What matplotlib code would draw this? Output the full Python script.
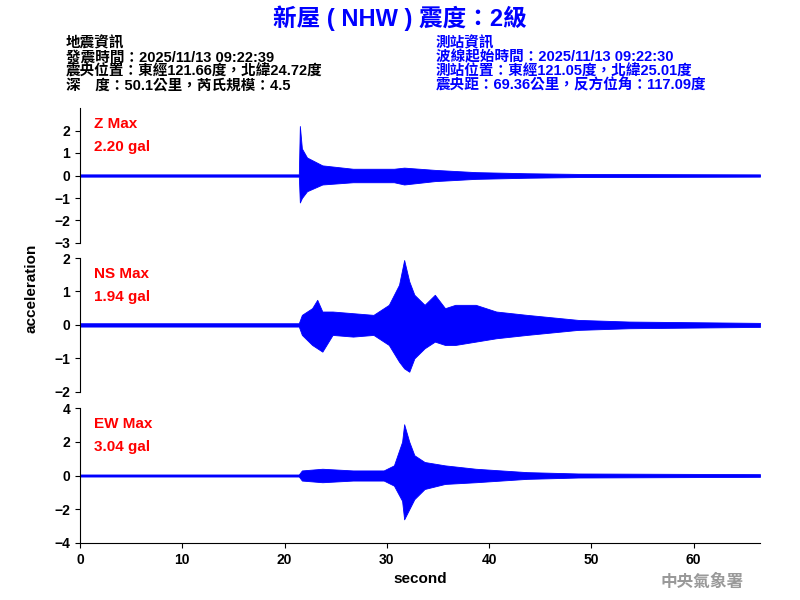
import matplotlib
matplotlib.use("Agg")
import matplotlib.pyplot as plt

plt.rcParams['font.family'] = ['Liberation Sans', 'Noto Sans CJK TC', 'DejaVu Sans']
plt.rcParams['font.weight'] = 'bold'

# Envelope knots (seconds) with upper/lower amplitude (gal)
z_t  = [0, 21.4, 21.5, 21.7, 22.2, 23.7, 26.7, 30.7, 31.7, 34.7, 38.7, 43.7, 48.7, 66.5]
z_up = [0.05, 0.05, 2.2, 1.2, 0.8, 0.45, 0.3, 0.3, 0.35, 0.25, 0.15, 0.1, 0.07, 0.05]
z_lo = [-0.05, -0.05, -1.2, -1.0, -0.7, -0.4, -0.3, -0.3, -0.4, -0.25, -0.15, -0.1, -0.07, -0.05]

ns_t  = [0, 21.4, 21.7, 22.7, 23.2, 23.7, 24.7, 26.7, 28.7, 30.2, 31.2, 31.7, 32.2, 32.7, 33.7, 34.7, 35.7, 36.7, 38.7, 40.7, 43.7, 48.7, 53.7, 66.5]
ns_up = [0.05, 0.05, 0.3, 0.5, 0.75, 0.4, 0.4, 0.35, 0.3, 0.6, 1.2, 1.94, 1.3, 0.9, 0.6, 0.9, 0.5, 0.6, 0.6, 0.4, 0.3, 0.15, 0.1, 0.06]
ns_lo = [-0.05, -0.05, -0.3, -0.6, -0.7, -0.8, -0.3, -0.35, -0.3, -0.6, -1.1, -1.3, -1.4, -1.0, -0.7, -0.5, -0.6, -0.6, -0.5, -0.4, -0.3, -0.15, -0.1, -0.06]

ew_t  = [0, 21.4, 21.7, 23.7, 26.7, 29.7, 30.7, 31.5, 31.7, 32.2, 32.7, 33.7, 35.7, 38.7, 43.7, 48.7, 66.5]
ew_up = [0.06, 0.06, 0.3, 0.4, 0.3, 0.3, 0.6, 2.0, 3.04, 2.0, 1.2, 0.8, 0.6, 0.4, 0.2, 0.12, 0.08]
ew_lo = [-0.06, -0.06, -0.3, -0.4, -0.3, -0.3, -0.6, -1.5, -2.6, -2.0, -1.4, -0.8, -0.5, -0.4, -0.2, -0.12, -0.08]

panels = [
    ("Z Max", "2.20 gal", z_t, z_up, z_lo, (-3, 3), [-3, -2, -1, 0, 1, 2], (0.1, 0.595, 0.85, 0.225)),
    ("NS Max", "1.94 gal", ns_t, ns_up, ns_lo, (-2, 2), [-2, -1, 0, 1, 2], (0.1, 0.347, 0.85, 0.223)),
    ("EW Max", "3.04 gal", ew_t, ew_up, ew_lo, (-4, 4), [-4, -2, 0, 2, 4], (0.1, 0.095, 0.85, 0.225)),
]

fig = plt.figure(figsize=(8, 6), dpi=100)
for i, (lab, val, t, up, lo, yl, yt, rect) in enumerate(panels):
    ax = fig.add_axes(rect)
    ax.fill_between(t, lo, up, color='#0000ff', lw=0.6, edgecolor='#0000ff')
    ax.plot([0, 66.5], [0, 0], color='#0000ff', lw=0.8)
    ax.set_xlim(0, 66.5)
    ax.set_ylim(*yl)
    ax.set_yticks(yt)
    for s in ['top', 'right']:
        ax.spines[s].set_visible(False)
    ax.tick_params(labelsize=10)
    if i < 2:
        ax.spines['bottom'].set_visible(False)
        ax.set_xticks([])
    else:
        ax.set_xticks([0, 10, 20, 30, 40, 50, 60])
        ax.set_xlabel("second", fontsize=11, fontweight='bold')
    ax.text(0.02, 0.93, lab, transform=ax.transAxes, color='red', fontsize=11, va='top')
    ax.text(0.02, 0.76, val, transform=ax.transAxes, color='red', fontsize=11, va='top')

fig.text(0.04, 0.52, "acceleration", rotation=90, ha='center', va='center', fontsize=11)
fig.text(0.5, 0.97, "新屋 ( NHW ) 震度：2級", color='#0000ff', fontsize=17, fontweight='bold', ha='center', va='center')
left = "地震資訊\n發震時間：2025/11/13 09:22:39\n震央位置：東經121.66度，北緯24.72度\n深　度：50.1公里，芮氏規模：4.5"
right = "測站資訊\n波線起始時間：2025/11/13 09:22:30\n測站位置：東經121.05度，北緯25.01度\n震央距：69.36公里，反方位角：117.09度"
fig.text(0.082, 0.94, left, fontsize=10.5, va='top', linespacing=1.0)
fig.text(0.545, 0.94, right, fontsize=10.5, va='top', color='#0000ff', linespacing=1.0)
fig.text(0.93, 0.03, "中央氣象署", color='#999999', fontsize=12, ha='right', va='center', fontweight='bold')
fig.savefig("out.png", dpi=100)
